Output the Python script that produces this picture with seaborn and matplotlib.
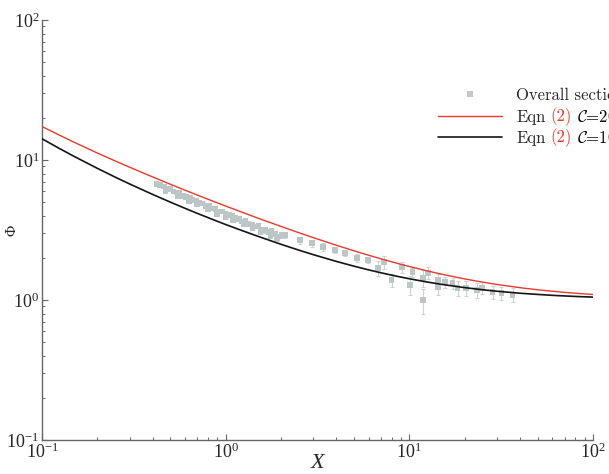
import matplotlib
matplotlib.use("Agg")
import matplotlib.pyplot as plt
import seaborn as sns
import pandas as pd
from matplotlib.lines import Line2D

# ---------------- data ----------------
# Curves (Eqn (2), C=20 red, C=10 black)
curve_x = [0.1, 0.125, 0.15, 0.2, 0.25, 0.3, 0.4, 0.5, 0.6, 0.7, 0.85, 1.0, 1.25, 1.5,
           2.0, 2.5, 3.0, 4.0, 5.0, 6.0, 7.0, 8.5, 10.0, 12.5, 15.0, 20.0, 25.0, 30.0,
           40.0, 50.0, 60.0, 70.0, 85.0, 100.0]
phi_c20 = [17.35, 15.0, 13.37, 11.22, 9.85, 8.88, 7.57, 6.71, 6.09, 5.62, 5.09, 4.69, 4.20, 3.84,
           3.354, 3.027, 2.789, 2.462, 2.245, 2.088, 1.969, 1.835, 1.735, 1.614, 1.529, 1.415, 1.342, 1.291,
           1.225, 1.183, 1.155, 1.134, 1.111, 1.0955]
phi_c10 = [14.18, 12.04, 10.59, 8.72, 7.55, 6.74, 5.68, 5.00, 4.52, 4.16, 3.76, 3.46, 3.105, 2.85,
           2.50, 2.272, 2.108, 1.887, 1.744, 1.641, 1.565, 1.480, 1.418, 1.344, 1.293, 1.226, 1.184, 1.155,
           1.118, 1.096, 1.080, 1.069, 1.057, 1.049]

# Measured points ("Overall section") with error bars
meas_x = [0.42, 0.44, 0.46, 0.47, 0.48, 0.50, 0.52, 0.54, 0.55, 0.56, 0.59, 0.61, 0.63, 0.64,
          0.66, 0.69, 0.70, 0.72, 0.75, 0.78, 0.80, 0.81, 0.85, 0.88, 0.90, 0.92, 0.96, 1.00,
          1.00, 1.04, 1.08, 1.10, 1.13, 1.18, 1.23, 1.25, 1.28, 1.33, 1.39, 1.40, 1.45, 1.51,
          1.55, 1.57, 1.64, 1.71, 1.75, 1.78, 1.86, 1.90, 1.94, 2.02,
          2.10, 2.54, 2.95, 3.39, 3.94, 4.46, 5.19, 5.96, 6.75, 7.30, 8.00, 9.10, 10.1, 10.4,
          11.9, 11.9, 12.6, 14.3, 14.3, 15.6, 17.2, 18.3, 20.4, 23.3, 24.8, 28.4, 31.7, 36.5]
meas_phi = [6.75, 6.60, 6.45, 6.00, 6.20, 6.20, 5.95, 5.85, 5.55, 5.80, 5.55, 5.45, 5.10, 5.40,
            5.20, 5.15, 4.80, 4.95, 4.90, 4.70, 4.45, 4.70, 4.50, 4.45, 4.10, 4.30, 4.30, 4.15,
            3.90, 4.05, 4.00, 3.70, 3.85, 3.80, 3.65, 3.45, 3.70, 3.50, 3.45, 3.25, 3.35, 3.40,
            3.05, 3.20, 3.15, 3.05, 2.85, 3.10, 2.95, 2.75, 2.85, 2.90,
            2.91, 2.68, 2.55, 2.39, 2.28, 2.17, 2.00, 1.93, 1.69, 1.87, 1.39, 1.72, 1.28, 1.58,
            1.00, 1.44, 1.56, 1.39, 1.24, 1.34, 1.32, 1.22, 1.22, 1.18, 1.22, 1.14, 1.12, 1.09]
meas_err = [0.15, 0.15, 0.15, 0.12, 0.15, 0.12, 0.12, 0.12, 0.12, 0.12, 0.12, 0.12, 0.10, 0.12,
            0.12, 0.12, 0.10, 0.12, 0.12, 0.10, 0.10, 0.10, 0.10, 0.10, 0.10, 0.10, 0.10, 0.10,
            0.10, 0.10, 0.10, 0.10, 0.10, 0.10, 0.10, 0.10, 0.12, 0.10, 0.10, 0.10, 0.10, 0.12,
            0.10, 0.10, 0.12, 0.10, 0.10, 0.12, 0.10, 0.10, 0.10, 0.12,
            0.12, 0.15, 0.15, 0.15, 0.12, 0.12, 0.12, 0.10, 0.20, 0.20, 0.15, 0.15, 0.20, 0.12,
            0.20, 0.20, 0.15, 0.15, 0.15, 0.12, 0.12, 0.15, 0.15, 0.15, 0.12, 0.12, 0.12, 0.12]

legend_labels = ["Overall section", "Eqn", "Eqn"]
eqn_ref = "(2)"
c_labels = [r"$\mathcal{C}$=20", r"$\mathcal{C}$=10"]

# ---------------- style ----------------
sns.set_style("ticks")
plt.rcParams["font.family"] = ["Liberation Serif", "DejaVu Serif"]
plt.rcParams["mathtext.fontset"] = "stix"

W, H = 609, 474
fig = plt.figure(figsize=(W / 100, H / 100), dpi=100)
ax = fig.add_axes([42 / W, 34 / H, (593 - 42) / W, (440 - 20) / H])

curves = pd.DataFrame({"X": curve_x, "c20": phi_c20, "c10": phi_c10})
meas = pd.DataFrame({"X": meas_x, "Phi": meas_phi, "err": meas_err})

pt_color = "#bcc6c6"
ax.errorbar(meas["X"], meas["Phi"], yerr=meas["err"], fmt="none",
            ecolor="#cdd2d2", elinewidth=0.8, capsize=1.5, capthick=0.8, zorder=1)
sns.scatterplot(data=meas, x="X", y="Phi", marker="s", s=16, color=pt_color,
                edgecolor="none", ax=ax, zorder=2, legend=False)
sns.lineplot(data=curves, x="X", y="c20", color="#e8392b", linewidth=1.0,
             ax=ax, sort=False, estimator=None, zorder=3)
sns.lineplot(data=curves, x="X", y="c10", color="#151515", linewidth=1.2,
             ax=ax, sort=False, estimator=None, zorder=3)

ax.set_xscale("log")
ax.set_yscale("log")
ax.set_xlim(0.1, 100)
ax.set_ylim(0.1, 100)

sns.despine(ax=ax)
for s in ("left", "bottom"):
    ax.spines[s].set_color("#666666")
    ax.spines[s].set_linewidth(1.0)
ax.tick_params(which="major", direction="in", length=4, width=0.8, color="#666666",
               labelsize=13, pad=2)
ax.tick_params(which="minor", direction="in", length=2.2, width=0.7, color="#666666")

ax.set_xlabel("X", fontsize=16, fontstyle="italic")
ax.xaxis.set_label_coords(0.5, -(463 - 440) / 420, transform=ax.transAxes)
ax.xaxis.label.set_va("center")
ax.set_ylabel("Φ", fontsize=11)
ax.yaxis.set_label_coords(-(42 - 12) / 551, 0.5, transform=ax.transAxes)
ax.yaxis.label.set_va("center")

# ---------------- legend ----------------
handles = [
    Line2D([], [], linestyle="none", marker="s", markersize=4, color="#c4c8c8", markeredgewidth=0),
    Line2D([], [], color="#e8392b", linewidth=1.0),
    Line2D([], [], color="#151515", linewidth=1.2),
]
leg = ax.legend(handles, legend_labels, loc="upper left",
                bbox_to_anchor=(438 / W, 1 - 88 / H), bbox_transform=fig.transFigure,
                frameon=False, borderpad=0, borderaxespad=0, handlelength=3.84,
                handletextpad=0.84, labelspacing=0.36,
                prop={"family": "cmr10", "size": 12})
leg.set_zorder(5)
texts = leg.get_texts()
for t, clab in zip(texts[1:], c_labels):
    a1 = ax.annotate(eqn_ref, xy=(1, 0), xycoords=t, xytext=(3.8, -0.67),
                     textcoords="offset points", ha="left", va="bottom",
                     color="#e8392b", fontfamily="cmr10", fontsize=12,
                     annotation_clip=False, zorder=10)
    ax.annotate(clab, xy=(1, 0), xycoords=a1, xytext=(3.8, 0.67),
                textcoords="offset points", ha="left", va="bottom",
                color="black", fontfamily="cmr10", fontsize=12,
                math_fontfamily="cm", annotation_clip=False, zorder=11)

fig.savefig("out.png", dpi=100)
